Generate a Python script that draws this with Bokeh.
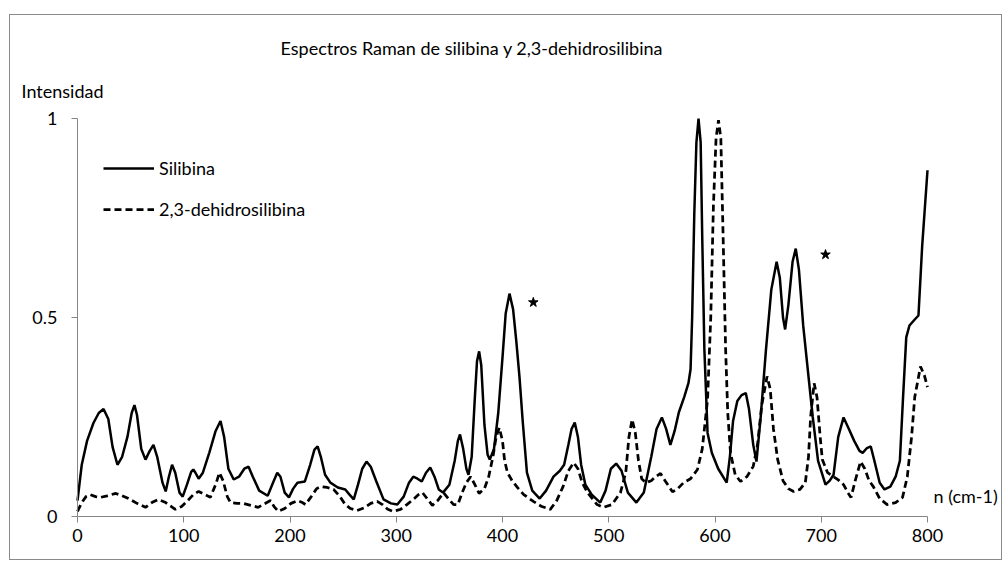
from bokeh.plotting import figure
from bokeh.models import (Range1d, FixedTicker, Label, Legend, LegendItem, LinearAxis)
from bokeh.embed import file_html
from bokeh.resources import INLINE

# ---- data ----
sil_x = [0, 4, 9, 15, 20, 24.5, 29, 33, 37.6, 42, 47, 51, 53.6, 56, 60, 64, 68, 71.5, 75, 80,
         83, 86, 89, 92, 96, 99, 103, 107, 109, 111, 114, 118, 124, 130, 134.6, 138, 142, 147,
         152, 157, 161, 165, 171, 179, 184, 188, 191, 195, 199, 203, 207, 214, 219, 223, 226,
         229, 233, 238, 245, 252, 256, 260, 264, 268, 272, 276, 281, 288, 295, 301, 307, 312,
         316, 320, 324, 328, 332, 336, 340, 344, 350, 355, 358, 360, 363, 366, 368, 371, 374,
         376, 378, 380, 383, 386, 388, 392, 396, 400, 403, 406.6, 410, 413, 416, 419, 423, 428,
         435, 441, 448, 454, 458, 462, 465, 468, 471, 474, 478, 484, 492, 497, 502, 507, 512,
         518, 526, 533, 540, 545, 550, 554, 558, 562, 566, 571, 575, 577, 578.5, 580.5, 582.5,
         584.5, 586.5, 588, 590, 593, 597, 603, 611, 614, 617, 621, 625, 629, 632, 636, 639,
         643, 648, 653, 658, 661, 664, 666, 669, 673, 676, 679, 683, 687, 692, 697, 704, 708,
         711.6, 716, 721, 726, 731, 736, 739, 743, 746.6, 750, 755, 759.5, 765, 770, 774, 777,
         780, 783, 788, 791.5, 795, 800]
sil_y = [0.04, 0.13, 0.19, 0.235, 0.26, 0.27, 0.245, 0.175, 0.13, 0.15, 0.2, 0.26, 0.28, 0.255,
         0.17, 0.143, 0.165, 0.18, 0.15, 0.085, 0.063, 0.1, 0.13, 0.11, 0.06, 0.05, 0.08, 0.112,
         0.118, 0.11, 0.095, 0.11, 0.16, 0.215, 0.24, 0.2, 0.12, 0.093, 0.1, 0.12, 0.125, 0.1,
         0.065, 0.052, 0.085, 0.11, 0.1, 0.06, 0.048, 0.07, 0.085, 0.088, 0.13, 0.168, 0.176,
         0.15, 0.105, 0.085, 0.073, 0.068, 0.055, 0.043, 0.08, 0.12, 0.138, 0.125, 0.09, 0.043,
         0.033, 0.03, 0.05, 0.085, 0.1, 0.095, 0.088, 0.11, 0.123, 0.1, 0.068, 0.06, 0.08, 0.14,
         0.19, 0.206, 0.17, 0.12, 0.105, 0.15, 0.3, 0.39, 0.415, 0.38, 0.23, 0.155, 0.143, 0.17,
         0.26, 0.4, 0.51, 0.56, 0.52, 0.44, 0.35, 0.24, 0.11, 0.065, 0.045, 0.065, 0.1, 0.115,
         0.13, 0.18, 0.22, 0.236, 0.2, 0.13, 0.08, 0.055, 0.035, 0.065, 0.12, 0.133, 0.115, 0.06,
         0.035, 0.06, 0.15, 0.22, 0.249, 0.22, 0.18, 0.215, 0.262, 0.3, 0.335, 0.37, 0.5, 0.76,
         0.94, 1.0, 0.94, 0.7, 0.42, 0.21, 0.16, 0.12, 0.085, 0.15, 0.24, 0.29, 0.305, 0.31,
         0.27, 0.18, 0.138, 0.25, 0.42, 0.57, 0.64, 0.6, 0.5, 0.47, 0.53, 0.64, 0.673, 0.62,
         0.48, 0.377, 0.25, 0.14, 0.08, 0.09, 0.105, 0.2, 0.249, 0.22, 0.19, 0.165, 0.16, 0.172,
         0.176, 0.14, 0.085, 0.068, 0.075, 0.1, 0.14, 0.3, 0.45, 0.48, 0.495, 0.505, 0.68, 0.87]

deh_x = [0, 4, 8, 12, 17, 21.6, 28, 36, 42, 48, 56, 64, 70, 76, 83, 92, 98, 103, 109, 114, 120,
         125, 130, 133.6, 137, 141, 144, 150, 156, 163, 170, 176, 181.6, 185, 189, 195, 201, 207,
         211, 214.6, 220, 225, 229, 235, 241, 247, 252, 257, 263, 270, 276, 282, 287, 292, 297,
         304, 310, 317, 321, 324.7, 329, 334, 339, 344.5, 349, 354, 358, 362, 366, 370, 374, 378,
         383, 387, 391, 394, 397, 400, 402, 404.7, 409, 414, 420, 429, 437, 445, 451, 457, 462,
         467, 471, 475, 480, 489, 495, 503, 511, 516, 519, 522, 525, 528, 531, 535, 540, 544,
         548.7, 553, 560, 565, 570.4, 577, 583.5, 588, 593, 596, 598.5, 601, 603.3, 605.5, 607.5,
         610, 612, 614.6, 619, 624, 630, 636, 640, 644, 649, 652, 655, 659, 664, 669, 674, 680,
         685, 688, 690, 693.3, 696, 699, 701, 706, 711.6, 716, 721, 725, 728, 732, 737, 741, 745,
         749, 755, 762, 770, 776.5, 781, 785, 788, 793.4, 797, 800]
deh_y = [0.013, 0.035, 0.05, 0.055, 0.05, 0.048, 0.052, 0.058, 0.052, 0.045, 0.033, 0.023, 0.035,
         0.043, 0.035, 0.018, 0.025, 0.038, 0.055, 0.063, 0.055, 0.048, 0.08, 0.11, 0.09, 0.05,
         0.035, 0.033, 0.033, 0.028, 0.023, 0.032, 0.04, 0.025, 0.013, 0.02, 0.033, 0.04, 0.036,
         0.03, 0.05, 0.07, 0.075, 0.073, 0.068, 0.05, 0.03, 0.02, 0.015, 0.022, 0.033, 0.038,
         0.03, 0.018, 0.013, 0.018, 0.03, 0.045, 0.055, 0.06, 0.045, 0.028, 0.04, 0.06, 0.045,
         0.03, 0.03, 0.06, 0.085, 0.1, 0.08, 0.058, 0.07, 0.1, 0.15, 0.2, 0.223, 0.19, 0.14, 0.11,
         0.09, 0.073, 0.055, 0.038, 0.025, 0.018, 0.04, 0.075, 0.115, 0.135, 0.12, 0.085, 0.06,
         0.03, 0.023, 0.03, 0.06, 0.11, 0.2, 0.244, 0.21, 0.14, 0.095, 0.085, 0.09, 0.1, 0.108,
         0.09, 0.062, 0.07, 0.085, 0.095, 0.118, 0.17, 0.294, 0.5, 0.78, 0.95, 0.996, 0.95, 0.72,
         0.42, 0.26, 0.16, 0.105, 0.088, 0.1, 0.126, 0.18, 0.28, 0.352, 0.32, 0.22, 0.143, 0.09,
         0.07, 0.063, 0.068, 0.085, 0.15, 0.25, 0.335, 0.3, 0.2, 0.143, 0.11, 0.1, 0.092, 0.08,
         0.06, 0.048, 0.09, 0.138, 0.12, 0.09, 0.075, 0.045, 0.03, 0.035, 0.048, 0.1, 0.2, 0.3,
         0.377, 0.355, 0.325]

star_x = [429, 704]
star_y = [0.538, 0.658]

series_names = ["Silibina", "2,3-dehidrosilibina"]
x_ticks = [0, 100, 200, 300, 400, 500, 600, 700, 800]
y_ticks = [0, 0.5, 1]
y_tick_labels = ["0", "0.5", "1"]
title_text = "Espectros Raman de silibina y 2,3-dehidrosilibina"
y_title = "Intensidad"
x_title = "n (cm-1)"

# ---- layout (pixels) ----
FONT = "Lato"
FS = "18px"
AXIS_GREY = "#868686"
W, H = 993, 546                 # canvas size
FX0, FX1 = 67, 917              # canvas px of x = 0 and x = 800
FY1, FY0 = 103, 501             # canvas px of y = 1 and y = 0
XMIN, XMAX = x_ticks[0], x_ticks[-1]
YMIN, YMAX = y_ticks[0], y_ticks[-1]
sx = (FX1 - FX0) / (XMAX - XMIN)
sy = (FY0 - FY1) / (YMAX - YMIN)
x_range = Range1d(XMIN - FX0 / sx, XMAX + (W - FX1) / sx)
y_range = Range1d(YMIN - (H - FY0) / sy, YMAX + FY1 / sy)

p = figure(width=W, height=H, output_backend="svg", toolbar_location=None,
           x_range=x_range, y_range=y_range, x_axis_location=None, y_axis_location=None,
           min_border=0)
p.margin = (14, 0, 0, 9)
p.styles = {"border": "1px solid #8a8a8a"}
p.outline_line_color = None
p.xgrid.grid_line_color = None
p.ygrid.grid_line_color = None
p.background_fill_color = "white"
p.border_fill_color = "white"

xaxis = LinearAxis(fixed_location=YMIN, bounds=(XMIN, XMAX), ticker=FixedTicker(ticks=x_ticks))
yaxis = LinearAxis(fixed_location=XMIN, bounds=(YMIN, YMAX), ticker=FixedTicker(ticks=y_ticks))
yaxis.major_label_overrides = {t: s for t, s in zip(y_ticks, y_tick_labels)}
for ax in (xaxis, yaxis):
    ax.axis_line_color = AXIS_GREY
    ax.major_tick_line_color = AXIS_GREY
    ax.minor_tick_line_color = None
    ax.major_tick_out = 6
    ax.major_tick_in = 0
    ax.major_label_text_font = FONT
    ax.major_label_text_font_size = FS
    ax.major_label_text_color = "black"
xaxis.major_label_standoff = 6
yaxis.major_label_standoff = 14
p.add_layout(xaxis, "below")
p.add_layout(yaxis, "left")

r1 = p.line(sil_x, sil_y, line_color="black", line_width=2.5)
r2 = p.line(deh_x, deh_y, line_color="black", line_width=2.75, line_dash="7 4")
p.scatter(star_x, star_y, marker="star", size=10, color="black")

legend = Legend(items=[LegendItem(label=series_names[0], renderers=[r1]),
                       LegendItem(label=series_names[1], renderers=[r2])],
                location=(93, 341), padding=0, margin=0, spacing=19,
                glyph_width=51, glyph_height=22, label_height=22, label_standoff=5,
                label_text_font=FONT, label_text_font_size=FS, label_text_color="black",
                border_line_alpha=0, background_fill_alpha=0)
p.add_layout(legend, "center")

p.add_layout(Label(x=270, y=H - 32, x_units="screen", y_units="screen", text=title_text,
                   text_font=FONT, text_font_size=FS, text_align="left",
                   text_baseline="middle", text_color="black"))
p.add_layout(Label(x=11, y=H - 75, x_units="screen", y_units="screen", text=y_title,
                   text_font=FONT, text_font_size=FS, text_align="left",
                   text_baseline="middle", text_color="black"))
p.add_layout(Label(x=923, y=H - 480, x_units="screen", y_units="screen", text=x_title,
                   text_font=FONT, text_font_size=FS, text_align="left",
                   text_baseline="middle", text_color="black"))

open("out.html", "w").write(file_html(p, INLINE))
